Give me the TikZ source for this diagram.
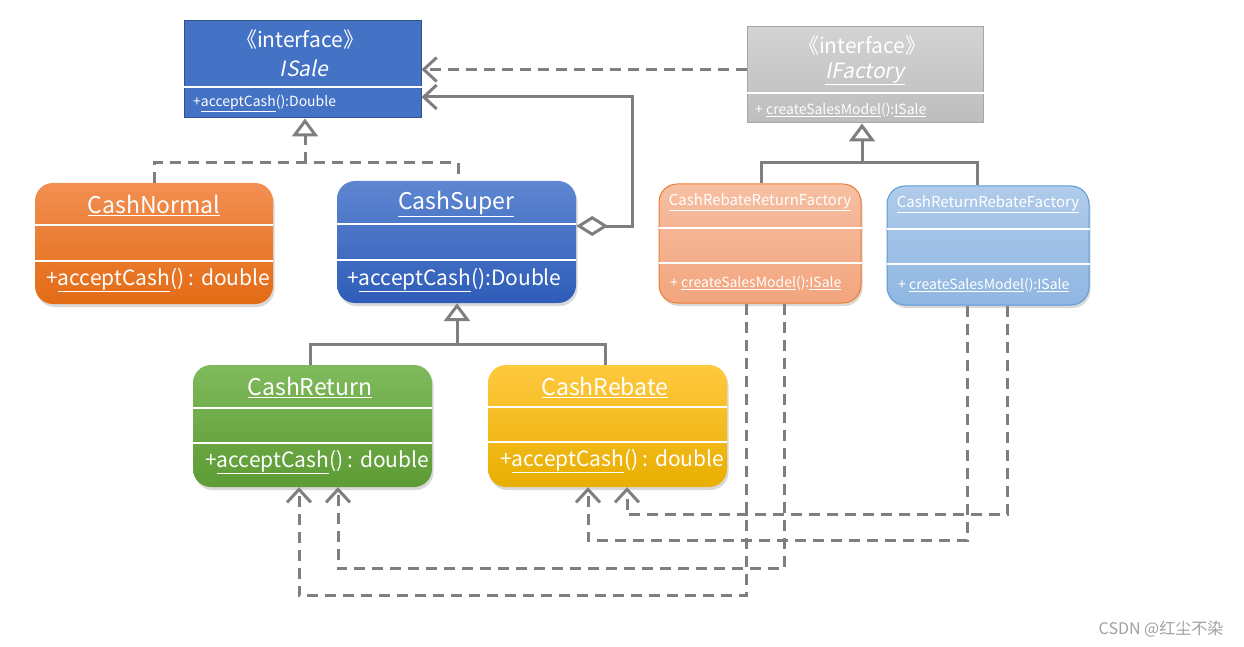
\documentclass[tikz,border=0pt]{standalone}
\usepackage{fontspec}
\setmainfont{Noto Sans CJK SC}[AutoFakeSlant=0.2]
\usepackage{xcolor}
\usetikzlibrary{arrows.meta, shadows, calc}

\definecolor{linegray}{HTML}{7F7F7F}
\definecolor{isaleblue}{HTML}{4472C4}
\definecolor{isaleedge}{HTML}{2F528F}
\definecolor{factop}{HTML}{D3D3D3}
\definecolor{facbot}{HTML}{BDBDBD}
\definecolor{facedge}{HTML}{A6A6A6}
\definecolor{orangetop}{HTML}{F28F52}
\definecolor{orangemid}{HTML}{F07C2C}
\definecolor{orangebot}{HTML}{E36B14}
\definecolor{bluetop}{HTML}{5E86D1}
\definecolor{bluemid}{HTML}{4472C4}
\definecolor{bluebot}{HTML}{2E5CB8}
\definecolor{greentop}{HTML}{7FBA5C}
\definecolor{greenmid}{HTML}{70AD47}
\definecolor{greenbot}{HTML}{5D9B34}
\definecolor{yellowtop}{HTML}{FFC93F}
\definecolor{yellowmid}{HTML}{FFC000}
\definecolor{yellowbot}{HTML}{E8AE00}
\definecolor{salmontop}{HTML}{F6BFA2}
\definecolor{salmonbot}{HTML}{F3A57E}
\definecolor{salmonedge}{HTML}{ED7D31}
\definecolor{skytop}{HTML}{B0CBEA}
\definecolor{skybot}{HTML}{8FB6E2}
\definecolor{skyedge}{HTML}{5B9BD5}
\definecolor{markgray}{HTML}{A0A0A0}

\tikzset{
  ifacebox/.style={rectangle, inner sep=0pt, line width=1pt},
  classbox/.style={rectangle, rounded corners=18pt, inner sep=0pt,
    drop shadow={shadow xshift=1.5pt, shadow yshift=-3pt, opacity=0.3}},
  divider/.style={white, line width=1.2pt},
  bigname/.style={inner sep=0pt, text=white, font=\fontsize{23}{27}\selectfont},
  bigop/.style={inner sep=0pt, anchor=west, text=white, font=\fontsize{21}{25}\selectfont},
  smallname/.style={inner sep=0pt, text=white, font=\fontsize{15}{18}\selectfont},
  smallop/.style={inner sep=0pt, anchor=west, text=white, font=\fontsize{14}{17}\selectfont},
  conn/.style={draw=linegray, line width=3pt},
  dep/.style={conn, dash pattern=on 11pt off 7pt, -{Straight Barb[length=13pt, width=24pt]}},
  realize/.style={conn, dash pattern=on 11pt off 7pt},
  gen/.style={conn, -{Triangle[open, length=18pt, width=26pt, fill=white]}}
}

\begin{document}
\begin{tikzpicture}[x=1pt, y=-1pt]
\useasboundingbox (0,0) rectangle (1244,647);

% interfaces
\node[ifacebox, fill=isaleblue, draw=isaleedge, minimum width=237pt, minimum height=97pt] (isale) at (302.5,69.5) {};
\node[ifacebox, top color=factop, bottom color=facbot, draw=facedge, minimum width=236pt, minimum height=96pt] (ifactory) at (865,75) {};
\draw[divider] (isale.west |- 0,87) -- (isale.east |- 0,87);
\draw[divider] (ifactory.west |- 0,93) -- (ifactory.east |- 0,93);
\node[bigname, font=\fontsize{21}{25}\selectfont] (isaletag) at (300,40) {《interface》};
\node[bigname, font=\fontsize{21}{25}\selectfont] (isalename) at (304,68) {\itshape ISale};
\node[smallop] (isaleop) at (193,103) {+\underline{acceptCash}():Double};
\node[bigname, font=\fontsize{21}{25}\selectfont] (ifactorytag) at (862,46) {《interface》};
\node[bigname, font=\fontsize{21}{25}\selectfont] (ifactoryname) at (865,74) {\itshape\underline{IFactory}};
\node[smallop] (ifactoryop) at (755,110) {+ \underline{createSalesModel}():\underline{ISale}};

% strategy classes
\node[classbox, top color=orangetop, middle color=orangemid, bottom color=orangebot, minimum width=238pt, minimum height=121pt] (cashnormal) at (154,243.5) {};
\node[classbox, top color=bluetop, middle color=bluemid, bottom color=bluebot, minimum width=239pt, minimum height=122pt] (cashsuper) at (456.5,242) {};
\node[classbox, top color=greentop, middle color=greenmid, bottom color=greenbot, minimum width=239pt, minimum height=122pt] (cashreturn) at (312.5,426) {};
\node[classbox, top color=yellowtop, middle color=yellowmid, bottom color=yellowbot, minimum width=239pt, minimum height=122pt] (cashrebate) at (607.5,426) {};

% factories
\node[classbox, top color=salmontop, bottom color=salmonbot, draw=salmonedge, line width=1pt, minimum width=202pt, minimum height=119pt] (rebatereturn) at (760,243.5) {};
\node[classbox, top color=skytop, bottom color=skybot, draw=skyedge, line width=1pt, minimum width=202pt, minimum height=119pt] (returnrebate) at (988,245.5) {};

% compartments
\draw[divider] (cashnormal.west |- 0,225) -- (cashnormal.east |- 0,225);
\draw[divider] (cashnormal.west |- 0,261) -- (cashnormal.east |- 0,261);
\draw[divider] (cashsuper.west |- 0,224) -- (cashsuper.east |- 0,224);
\draw[divider] (cashsuper.west |- 0,260) -- (cashsuper.east |- 0,260);
\draw[divider] (cashreturn.west |- 0,408) -- (cashreturn.east |- 0,408);
\draw[divider] (cashreturn.west |- 0,443) -- (cashreturn.east |- 0,443);
\draw[divider] (cashrebate.west |- 0,407) -- (cashrebate.east |- 0,407);
\draw[divider] (cashrebate.west |- 0,442) -- (cashrebate.east |- 0,442);
\draw[divider] (rebatereturn.west |- 0,228) -- (rebatereturn.east |- 0,228);
\draw[divider] (rebatereturn.west |- 0,263) -- (rebatereturn.east |- 0,263);
\draw[divider] (returnrebate.west |- 0,229) -- (returnrebate.east |- 0,229);
\draw[divider] (returnrebate.west |- 0,264) -- (returnrebate.east |- 0,264);

\node[bigname] (normalname) at (154,205) {\underline{CashNormal}};
\node[bigop] (normalop) at (46,280) {+\underline{acceptCash}() : double};
\node[bigname] (supername) at (456,204) {\underline{CashSuper}};
\node[bigop] (superop) at (347,280) {+\underline{acceptCash}():Double};
\node[bigname] (returnname) at (310,387) {\underline{CashReturn}};
\node[bigop] (returnop) at (205,462) {+\underline{acceptCash}() : double};
\node[bigname] (rebatename) at (605,387) {\underline{CashRebate}};
\node[bigop] (rebateop) at (500,461) {+\underline{acceptCash}() : double};
\node[smallname] (rrname) at (760,202) {\underline{CashRebateReturnFactory}};
\node[smallop] (rrop) at (670,283) {+ \underline{createSalesModel}():\underline{ISale}};
\node[smallname] (rtname) at (988,204) {\underline{CashReturnRebateFactory}};
\node[smallop] (rtop) at (898,285) {+ \underline{createSalesModel}():\underline{ISale}};

% relations
\draw[dep] (ifactory.west |- isale.east) -- (isale.east);
\draw[conn, {Diamond[open, length=32pt, width=20pt, fill=white]}-{Straight Barb[length=13pt, width=24pt]}]
  ([yshift=16pt]cashsuper.east) -- ++(56,0) |- ([yshift=-27.5pt]isale.east);

\coordinate (realjoin) at (305,163);
\draw[realize] (cashnormal.north) |- (realjoin) -| ([xshift=1.5pt]cashsuper.north);
\draw[realize, -{Triangle[open, length=18pt, width=26pt, fill=white]}] (realjoin) -- (realjoin |- isale.south);

\coordinate (genjoin) at (457,344);
\draw[conn] ([xshift=-2.5pt]cashreturn.north) |- (genjoin) -| ([xshift=-2.5pt]cashrebate.north);
\draw[gen] (genjoin) -- (genjoin |- cashsuper.south);

\coordinate (facjoin) at (862,163);
\draw[conn] ([xshift=1pt]rebatereturn.north) |- (facjoin) -| ([xshift=-11pt]returnrebate.north);
\draw[gen] (facjoin) -- (facjoin |- ifactory.south);

\draw[dep] ([xshift=-14pt]rebatereturn.south) -- ++(0,292) -| ([xshift=-13.5pt]cashreturn.south);
\draw[dep] ([xshift=24pt]rebatereturn.south) -- ++(0,265) -| ([xshift=25.5pt]cashreturn.south);
\draw[dep] ([xshift=-21pt]returnrebate.south) -- ++(0,235) -| ([xshift=-19.5pt]cashrebate.south);
\draw[dep] ([xshift=19pt]returnrebate.south) -- ++(0,209) -| ([xshift=19.5pt]cashrebate.south);

\node[inner sep=0pt, text=markgray, font=\fontsize{16}{19}\selectfont] (mark) at (1161,629) {CSDN @红尘不染};
\end{tikzpicture}
\end{document}
